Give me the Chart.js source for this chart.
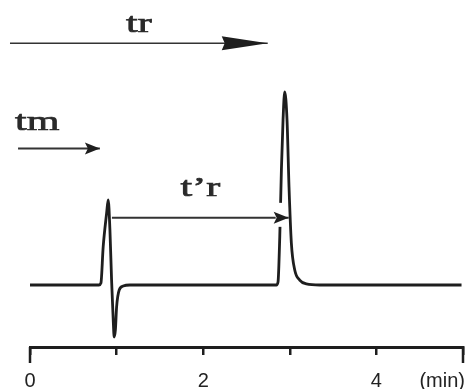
<!DOCTYPE html>
<html>
<head>
<meta charset="utf-8">
<script src="https://cdn.jsdelivr.net/npm/chart.js@4.4.1/dist/chart.umd.min.js"></script>
<style>
  html, body { margin: 0; padding: 0; background: #fff; }
</style>
</head>
<body>
<canvas id="chrom" width="466" height="389"></canvas>
<script>
// Chromatogram trace: time (min) and detector signal (baseline = 0)
const traceTime = [0, 0.796, 0.819, 0.845, 0.885, 0.903, 0.923, 0.942, 0.961, 0.972, 0.986, 1.0, 1.03, 1.076, 1.153,
  2.845, 2.864, 2.884, 2.903, 2.922, 2.941, 2.968, 2.991, 3.018, 3.057, 3.114, 3.191, 3.345, 4.983];
const traceSignal = [0, 0, 0.19, 3.68, 6.97, 8.23, 5.32, 0.48, -3.39, -5.03, -4.35, -2.13, -0.48, -0.1, 0,
  0, 0.29, 4.65, 11.13, 15.97, 18.68, 15.97, 9.48, 4.06, 1.45, 0.48, 0.1, 0, 0];

// Time arrows (start / end in min, drawn at a signal level)
const arrowNames = ['tr', 'tm', 't\u2019r'];
const arrowStart = [-0.231, -0.138, 0.946];
const arrowEnd = [2.745, 0.807, 2.987];
const arrowLevel = [23.4, 13.2, 6.5];

// x axis
const tickValues = [0, 1, 2, 3, 4, 5];
const tickLabels = ['0', '', '2', '', '4', ''];
const axisUnit = '(min)';

const ink = '#1e1e1e';

// arrow heads, labels, unit and long end ticks
const arrowStyle = [
  { head: 46, half: 7, labelAlign: 'center', labelDy: 11, gap: false },
  { head: 15, half: 6, labelAlign: 'left', labelDy: 19, gap: false },
  { head: 15, half: 6, labelAlign: 'center', labelDy: 22, gap: true }
];

const decorPlugin = {
  id: 'decor',
  afterDatasetsDraw(chart) {
    const ctx = chart.ctx;
    arrowNames.forEach((name, i) => {
      const pts = chart.getDatasetMeta(i + 1).data;
      const a = pts[0], b = pts[pts.length - 1];
      const st = arrowStyle[i];
      ctx.save();
      if (st.gap) {
        // white cut in the peak around the head
        ctx.fillStyle = '#fff';
        ctx.fillRect(b.x - 13, b.y - 15, 10, 24);
      }
      ctx.fillStyle = ink;
      ctx.beginPath();
      ctx.moveTo(b.x, b.y);
      ctx.lineTo(b.x - st.head, b.y - st.half);
      ctx.lineTo(b.x - st.head + 3, b.y);
      ctx.lineTo(b.x - st.head, b.y + st.half);
      ctx.closePath();
      ctx.fill();

      // label
      const lx = st.labelAlign === 'center' ? (a.x + b.x) / 2 : a.x - 3;
      ctx.translate(lx, b.y - st.labelDy);
      ctx.scale(1.5, 1);
      ctx.font = '28px "Liberation Serif", "DejaVu Serif", serif';
      ctx.textAlign = st.labelAlign;
      ctx.textBaseline = 'alphabetic';
      ctx.fillStyle = '#2a2a2a';
      ctx.strokeStyle = '#2a2a2a';
      ctx.lineWidth = 0.7;
      ctx.fillText(name, 0, 0);
      ctx.strokeText(name, 0, 0);
      ctx.restore();
    });
  },
  afterDraw(chart) {
    const ctx = chart.ctx;
    const xs = chart.scales.x;
    const y0 = chart.chartArea.bottom;
    ctx.save();
    ctx.strokeStyle = ink;
    ctx.lineWidth = 2.5;
    [tickValues[0], tickValues[tickValues.length - 1]].forEach(v => {
      const px = xs.getPixelForValue(v);
      ctx.beginPath();
      ctx.moveTo(px, y0);
      ctx.lineTo(px, y0 + 16);
      ctx.stroke();
    });
    ctx.fillStyle = '#222';
    ctx.font = '20px "Liberation Sans", Arial, sans-serif';
    ctx.textAlign = 'right';
    ctx.textBaseline = 'alphabetic';
    ctx.fillText(axisUnit, xs.right + 2, 387);
    ctx.restore();
  }
};

const datasets = [{
  data: traceTime.map((t, i) => ({ x: t, y: traceSignal[i] })),
  showLine: true,
  borderColor: ink,
  borderWidth: 2.8,
  pointRadius: 0,
  cubicInterpolationMode: 'monotone',
  clip: false
}];
arrowNames.forEach((name, i) => {
  datasets.push({
    label: name,
    data: [{ x: arrowStart[i], y: arrowLevel[i] }, { x: arrowEnd[i], y: arrowLevel[i] }],
    showLine: true,
    borderColor: '#333',
    borderWidth: i === 0 ? 1.6 : 2,
    pointRadius: 0,
    clip: false
  });
});

new Chart(document.getElementById('chrom'), {
  type: 'scatter',
  data: { datasets: datasets },
  options: {
    responsive: false,
    animation: false,
    devicePixelRatio: 1,
    layout: { padding: { top: 6, left: 30, right: 3, bottom: 0 } },
    plugins: {
      legend: { display: false },
      tooltip: { enabled: false }
    },
    scales: {
      x: {
        type: 'linear',
        min: 0,
        max: 5,
        afterBuildTicks: axis => {
          axis.ticks = tickValues.map(v => ({ value: v }));
        },
        afterFit: axis => {
          axis.height = 42;
          axis.paddingLeft = 0;
          axis.paddingRight = 0;
        },
        ticks: {
          autoSkip: false,
          maxRotation: 0,
          padding: 16,
          color: '#222',
          font: { family: '"Liberation Sans", Arial, sans-serif', size: 20, lineHeight: 1 },
          callback: value => tickLabels[tickValues.indexOf(value)]
        },
        grid: {
          drawOnChartArea: false,
          drawTicks: true,
          tickLength: 8,
          tickColor: ink,
          lineWidth: 2.5
        },
        border: { display: true, color: ink, width: 3 }
      },
      y: {
        display: false,
        min: -6,
        max: 27
      }
    }
  },
  plugins: [decorPlugin]
});
</script>
</body>
</html>
